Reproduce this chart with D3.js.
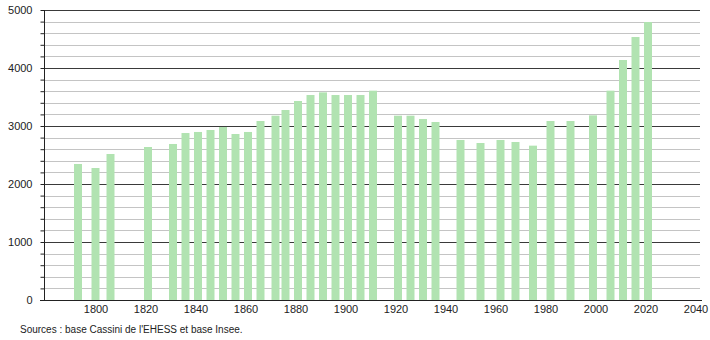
<!DOCTYPE html>
<html>
<head>
<meta charset="utf-8">
<script src="https://cdn.jsdelivr.net/npm/d3@7"></script>
<style>
  body { margin: 0; background: #fff; }
  text { font-family: "Liberation Sans", Arial, sans-serif; }
</style>
</head>
<body>
<div id="chart"></div>
<script>
'use strict';

// census years and population
const years = [1793, 1800, 1806, 1821, 1831, 1836, 1841, 1846, 1851, 1856, 1861,
    1866, 1872, 1876, 1881, 1886, 1891, 1896, 1901, 1906, 1911,
    1921, 1926, 1931, 1936, 1946, 1954, 1962, 1968, 1975, 1982,
    1990, 1999, 2006, 2011, 2016, 2021];
const population = [2345, 2276, 2517, 2638, 2690, 2879, 2897, 2931, 2983, 2862, 2897,
    3086, 3178, 3276, 3431, 3534, 3580, 3534, 3534, 3534, 3609,
    3178, 3178, 3121, 3069, 2759, 2707, 2759, 2724, 2661, 3086,
    3086, 3184, 3609, 4138, 4534, 4793];
const xTicks = [1800, 1820, 1840, 1860, 1880, 1900, 1920, 1940, 1960, 1980, 2000, 2020, 2040];
const yTicks = [0, 1000, 2000, 3000, 4000, 5000];
const source = "Sources : base Cassini de l'EHESS et base Insee.";

var width = 710, height = 340;
var plot = { left: 44, right: 700, top: 10, bottom: 300 };

var svg = d3.select("#chart").append("svg")
    .attr("width", width)
    .attr("height", height);

var x = d3.scaleLinear()
    .domain([1779.4, 2041.8])
    .range([plot.left, plot.right]);

var y = d3.scaleLinear()
    .domain([0, 5000])
    .range([plot.bottom, plot.top]);

// minor grid every 200
svg.append("g")
    .selectAll("line")
    .data(d3.range(200, 5000, 200).filter(function (v) { return v % 1000 !== 0; }))
    .join("line")
    .attr("x1", plot.left).attr("x2", plot.right)
    .attr("y1", function (d) { return Math.round(y(d)) + 0.5; })
    .attr("y2", function (d) { return Math.round(y(d)) + 0.5; })
    .style("stroke", "#c4c4c4")
    .style("stroke-width", "1px");

// major grid
svg.append("g")
    .selectAll("line")
    .data(yTicks.slice(1))
    .join("line")
    .attr("x1", plot.left).attr("x2", plot.right)
    .attr("y1", function (d) { return Math.round(y(d)) + 0.5; })
    .attr("y2", function (d) { return Math.round(y(d)) + 0.5; })
    .style("stroke", "#3a3a3a")
    .style("stroke-width", "1px");

// bars
var bw = 8;
svg.append("g")
    .selectAll("rect")
    .data(years)
    .join("rect")
    .attr("x", function (d) { return x(d) - bw / 2; })
    .attr("y", function (d, i) { return y(population[i]); })
    .attr("width", bw)
    .attr("height", function (d, i) { return plot.bottom - y(population[i]); })
    .style("fill", "#b1e3b1");

// y axis with minor ticks
var yAxis = d3.axisLeft(y)
    .tickValues(d3.range(0, 5001, 200))
    .tickSize(4)
    .tickFormat(function (d) { return d % 1000 === 0 ? d : ""; });

var gy = svg.append("g")
    .attr("transform", "translate(" + (plot.left + 0.5) + ",0)")
    .call(yAxis);
gy.select(".domain").remove();
gy.selectAll(".tick line").style("stroke", "#222");
gy.append("line")
    .attr("x1", 0).attr("x2", 0)
    .attr("y1", plot.top).attr("y2", plot.bottom)
    .style("stroke", "#222");
gy.selectAll(".tick text")
    .attr("x", -12)
    .style("font-size", "11px")
    .style("fill", "#222")
    .style("font-family", "'Liberation Sans', Arial, sans-serif");

// x axis
var xAxis = d3.axisBottom(x)
    .tickValues(xTicks)
    .tickSize(0)
    .tickFormat(d3.format("d"));

var gx = svg.append("g")
    .attr("transform", "translate(0," + (plot.bottom + 0.5) + ")")
    .call(xAxis);
gx.select(".domain").remove();
gx.append("line")
    .attr("x1", plot.left - 4).attr("x2", plot.right + 2)
    .style("stroke", "#222");
gx.selectAll(".tick text")
    .attr("dy", "0.85em")
    .style("font-size", "11px")
    .style("fill", "#222")
    .style("font-family", "'Liberation Sans', Arial, sans-serif");

svg.append("text")
    .attr("x", 20)
    .attr("y", 333)
    .style("font-size", "10px")
    .style("fill", "#222")
    .text(source);
</script>
</body>
</html>
